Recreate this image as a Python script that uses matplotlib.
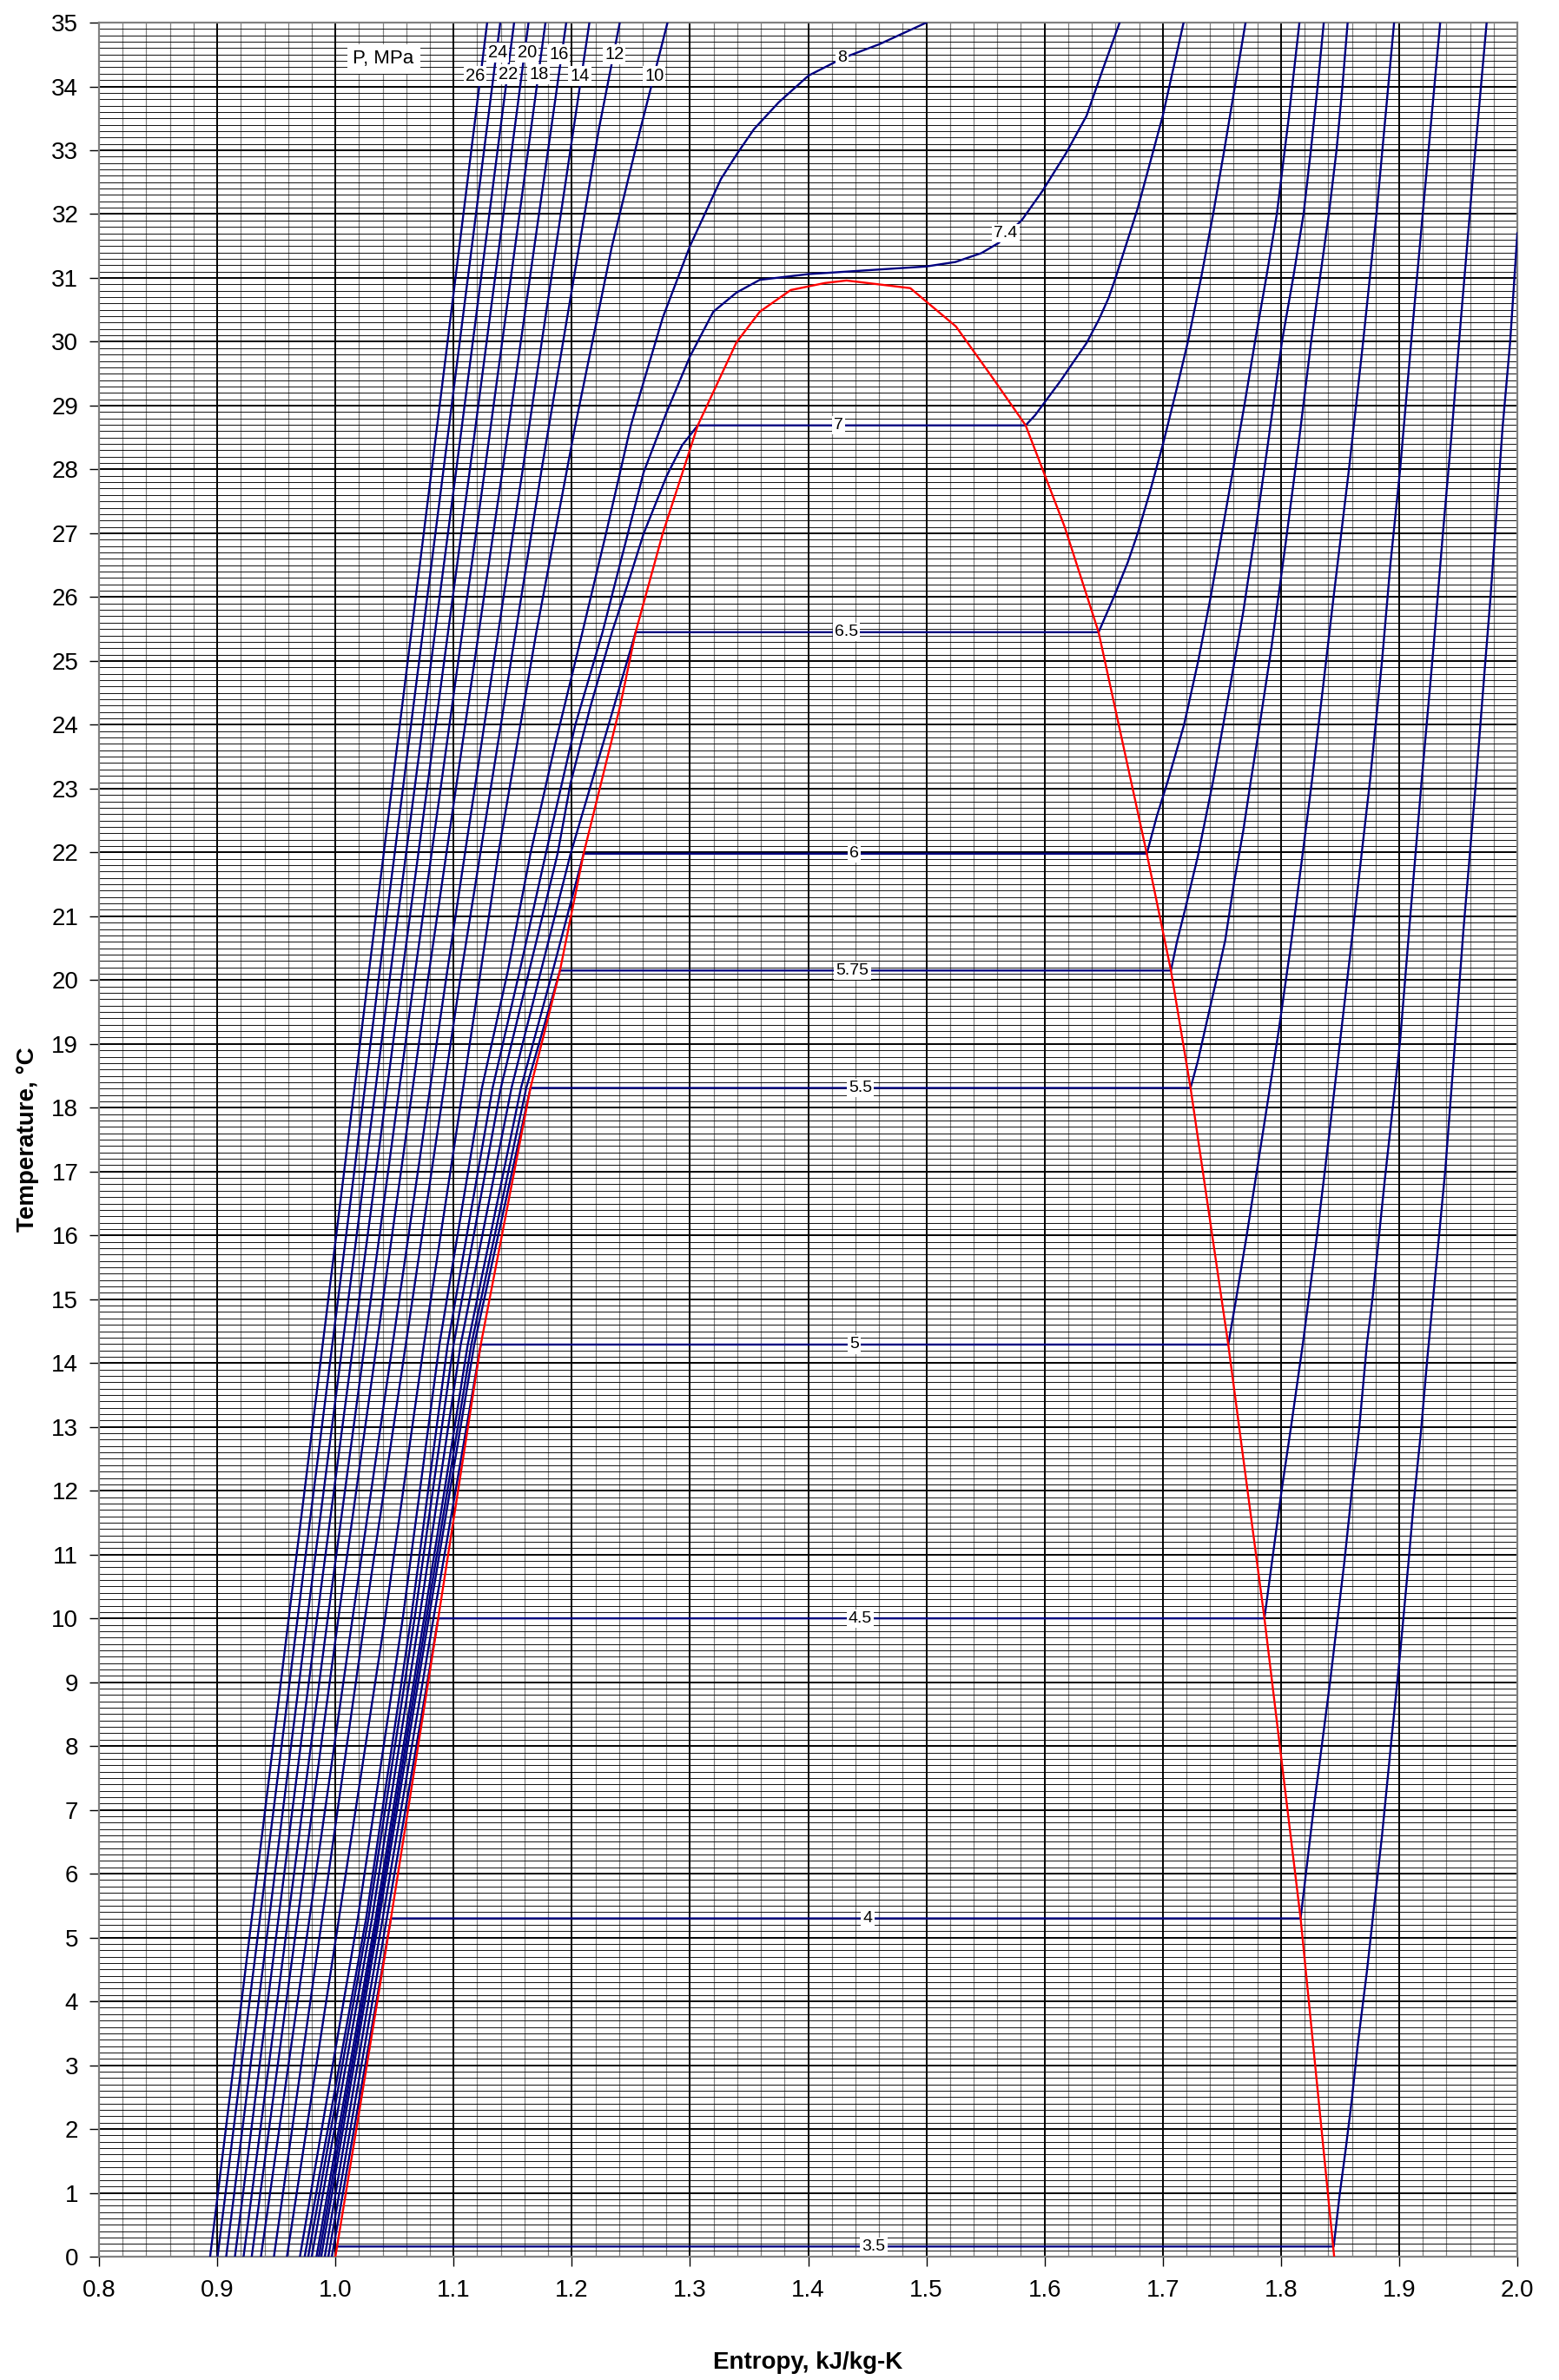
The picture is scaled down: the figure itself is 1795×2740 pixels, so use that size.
import matplotlib
matplotlib.use("Agg")
import matplotlib.pyplot as plt
from matplotlib.ticker import MultipleLocator, FormatStrFormatter

plt.rcParams['font.family'] = ['Liberation Sans', 'DejaVu Sans']

###### DATA ######
# saturation dome: liquid side up to the critical point, then vapour side down
sat_s = [1.000, 1.047, 1.087, 1.123, 1.165, 1.190, 1.210, 1.241, 1.254, 1.277,
         1.3066, 1.3393, 1.359, 1.3852, 1.414, 1.4324, 1.4864, 1.525, 1.557,
         1.584, 1.617, 1.6457, 1.6865, 1.7069, 1.7235, 1.7554, 1.786, 1.8166, 1.845]
sat_t = [0.0, 5.3, 10.0, 14.29, 18.31, 20.15, 21.98, 24.3, 25.45, 27.0,
         28.69, 29.99, 30.47, 30.81, 30.92, 30.96, 30.84, 30.24, 29.41,
         28.69, 27.1, 25.45, 21.98, 20.15, 18.31, 14.29, 10.0, 5.3, 0.0]

# isobars as (s, T) points, MPa
iso_3_5 = [(1.001, 0.16), (1.8446, 0.16), (1.8497, 0.98), (1.8548, 1.69), (1.860, 2.47),
           (1.865, 3.33), (1.8727, 4.47), (1.8778, 5.32), (1.8855, 6.6), (1.8931, 8.03),
           (1.9008, 9.45), (1.9079, 10.88), (1.9122, 11.79), (1.9186, 12.96), (1.9237, 14.05),
           (1.9314, 15.54), (1.939, 17.02), (1.948, 19.21), (1.9543, 20.77), (1.965, 23.12),
           (1.9722, 24.83), (1.9773, 26.0), (1.9811, 27.0), (1.9875, 28.66), (1.9939, 30.0),
           (2.0, 31.7)]
iso_4 = [(0.997, 0.0), (1.0205, 2.5), (1.047, 5.3), (1.8166, 5.3), (1.8275, 7.0),
         (1.8415, 9.0), (1.8536, 10.88), (1.860, 12.0), (1.8663, 13.0), (1.8727, 14.3),
         (1.8778, 15.07), (1.888, 16.9), (1.9008, 19.05), (1.9085, 20.8), (1.919, 23.12),
         (1.929, 25.2), (1.937, 27.0), (1.9441, 28.5), (1.952, 30.3), (1.962, 32.5),
         (1.974, 35.0)]
iso_4_5 = [(0.994, 0.0), (1.0435, 5.3), (1.087, 10.0), (1.786, 10.0), (1.7925, 10.9),
           (1.8005, 12.0), (1.8085, 13.0), (1.8185, 14.3), (1.8305, 16.0), (1.839, 17.3),
           (1.851, 19.2), (1.8585, 20.4), (1.8753, 23.12), (1.8855, 25.0), (1.8925, 26.5),
           (1.9008, 28.0), (1.9097, 29.9), (1.9199, 32.0), (1.9347, 35.0)]
iso_5 = [(0.991, 0.0), (1.040, 5.3), (1.083, 10.0), (1.123, 14.29), (1.7554, 14.29),
         (1.762, 15.0), (1.771, 16.0), (1.7795, 17.0), (1.788, 18.0), (1.798, 19.2),
         (1.808, 20.5), (1.8185, 22.0), (1.8262, 23.12), (1.835, 24.5), (1.8445, 26.0),
         (1.8575, 28.0), (1.8695, 30.0), (1.8808, 32.0), (1.8957, 35.0)]
iso_5_5 = [(0.988, 0.0), (1.037, 5.3), (1.079, 10.0), (1.1175, 14.29), (1.165, 18.31),
           (1.7235, 18.31), (1.7298, 18.74), (1.7375, 19.37), (1.7452, 19.99), (1.7528, 20.62),
           (1.7605, 21.55), (1.7681, 22.34), (1.7745, 23.12), (1.782, 24.0), (1.792, 25.22),
           (1.8035, 26.78), (1.8145, 28.34), (1.8255, 30.0), (1.833, 31.0), (1.8405, 32.0),
           (1.847, 33.0), (1.852, 34.0), (1.8564, 35.0)]
iso_5_75 = [(0.986, 0.0), (1.0355, 5.3), (1.077, 10.0), (1.115, 14.29), (1.1615, 18.31),
            (1.190, 20.15), (1.7069, 20.15), (1.712, 20.6), (1.7196, 21.16), (1.7298, 21.95),
            (1.7426, 23.12), (1.7554, 24.44), (1.7681, 25.77), (1.7783, 27.02), (1.7885, 28.34),
            (1.8008, 30.0), (1.8103, 31.0), (1.8191, 32.0), (1.8253, 33.0), (1.831, 34.0),
            (1.8362, 35.0)]
iso_6 = [(0.984, 0.0), (1.034, 5.3), (1.075, 10.0), (1.112, 14.29), (1.157, 18.31),
         (1.184, 20.15), (1.210, 21.98), (1.6865, 21.98), (1.695, 22.57), (1.7043, 23.12),
         (1.718, 24.0), (1.730, 25.0), (1.7405, 26.0), (1.750, 27.0), (1.7595, 28.0),
         (1.769, 29.0), (1.778, 30.0), (1.7875, 31.0), (1.7965, 32.0), (1.8065, 33.5),
         (1.8156, 35.0)]
iso_6_5 = [(0.980, 0.0), (1.031, 5.3), (1.071, 10.0), (1.106, 14.29), (1.149, 18.31),
           (1.174, 20.15), (1.199, 21.98), (1.228, 23.8), (1.254, 25.45), (1.6457, 25.45),
           (1.6597, 26.05), (1.6705, 26.55), (1.6788, 27.0), (1.689, 27.64), (1.7005, 28.42),
           (1.712, 29.28), (1.721, 29.98), (1.7324, 31.0), (1.7426, 32.0), (1.752, 33.0),
           (1.761, 34.0), (1.770, 35.0)]
iso_7 = [(0.977, 0.0), (1.028, 5.3), (1.067, 10.0), (1.100, 14.29), (1.140, 18.31),
         (1.164, 20.15), (1.188, 21.98), (1.199, 23.09), (1.216, 24.3), (1.234, 25.45),
         (1.249, 26.3), (1.2607, 26.99), (1.2803, 27.9), (1.2934, 28.38), (1.3066, 28.69),
         (1.584, 28.69), (1.592, 28.85), (1.602, 29.1), (1.614, 29.4), (1.625, 29.7),
         (1.6355, 29.98), (1.646, 30.35), (1.654, 30.68), (1.6597, 30.98), (1.6788, 32.09),
         (1.700, 33.54), (1.7176, 35.0)]
iso_7_4 = [(0.974, 0.0), (1.026, 5.3), (1.064, 10.0), (1.095, 14.29), (1.133, 18.31),
           (1.156, 20.15), (1.178, 21.98), (1.203, 24.0), (1.226, 25.45), (1.2607, 27.95),
           (1.2803, 28.9), (1.300, 29.77), (1.3197, 30.47), (1.3393, 30.77), (1.359, 30.97),
           (1.400, 31.06), (1.450, 31.12), (1.500, 31.18), (1.5246, 31.25), (1.5466, 31.39),
           (1.5613, 31.55), (1.5809, 31.91), (1.5981, 32.36), (1.618, 32.95), (1.6355, 33.54),
           (1.6495, 34.28), (1.6635, 35.0)]
iso_8 = [(0.970, 0.0), (1.019, 5.3), (1.057, 10.0), (1.088, 14.29), (1.124, 18.31),
         (1.146, 20.15), (1.165, 21.98), (1.186, 23.7), (1.209, 25.45), (1.229, 27.0),
         (1.250, 28.69), (1.2574, 29.16), (1.277, 30.38), (1.300, 31.5), (1.3262, 32.55),
         (1.340, 32.95), (1.3541, 33.33), (1.375, 33.75), (1.4003, 34.17), (1.430, 34.45),
         (1.460, 34.66), (1.500, 35.0)]
iso_10 = [(0.959, 0.0), (1.003, 5.3), (1.042, 10.0), (1.075, 14.3), (1.108, 18.3),
          (1.138, 22.0), (1.170, 25.45), (1.203, 28.69), (1.234, 31.5), (1.258, 33.33),
          (1.281, 35.0)]
iso_12 = [(0.948, 0.0), (1.025, 10.0), (1.1055, 20.0), (1.1745, 28.0), (1.2229, 33.33),
          (1.2406, 35.0)]
iso_14 = [(0.937, 0.0), (1.0145, 10.0), (1.0935, 20.0), (1.1585, 28.0), (1.2149, 35.0)]
iso_16 = [(0.9292, 0.0), (1.0025, 10.0), (1.0782, 20.0), (1.1415, 28.0), (1.1953, 35.0)]
iso_18 = [(0.9223, 0.0), (0.9935, 10.0), (1.0665, 20.0), (1.1265, 28.0), (1.1777, 35.0)]
iso_20 = [(0.915, 0.0), (0.9845, 10.0), (1.0558, 20.0), (1.1138, 28.0), (1.1634, 35.0)]
iso_22 = [(0.9076, 0.0), (0.9762, 10.0), (1.0458, 20.0), (1.1023, 28.0), (1.1512, 35.0)]
iso_24 = [(0.9003, 0.0), (0.968, 10.0), (1.0365, 20.0), (1.0915, 28.0), (1.1395, 35.0)]
iso_26 = [(0.894, 0.0), (0.9605, 10.0), (1.0275, 20.0), (1.0815, 28.0), (1.1284, 35.0)]

isobars = [iso_3_5, iso_4, iso_4_5, iso_5, iso_5_5, iso_5_75, iso_6, iso_6_5, iso_7,
           iso_7_4, iso_8, iso_10, iso_12, iso_14, iso_16, iso_18, iso_20, iso_22,
           iso_24, iso_26]

# pressure labels on the lines
lab_text = ['3.5', '4', '4.5', '5', '5.5', '5.75', '6', '6.5', '7', '7.4', '8']
lab_s = [1.4555, 1.4504, 1.444, 1.4388, 1.444, 1.4375, 1.4388, 1.4324, 1.426, 1.5671, 1.4285]
lab_t = [0.16, 5.3, 10.0, 14.29, 18.31, 20.15, 21.98, 25.45, 28.69, 31.70, 34.45]
top_text = ['26', '24', '22', '20', '18', '16', '14', '12', '10']
top_s = [1.118, 1.1373, 1.146, 1.162, 1.172, 1.1889, 1.2066, 1.236, 1.2697]
top_t = [34.17, 34.53, 34.19, 34.53, 34.19, 34.50, 34.16, 34.50, 34.16]


########## PLOT ##################
fig = plt.figure(figsize=(17.95, 27.4), dpi=100)
ax = fig.add_axes([0.0635, 0.0518, 0.9098, 0.9387])

for pts in isobars:
    xs = [p[0] for p in pts]
    ts = [p[1] for p in pts]
    ax.plot(xs, ts, color='#000080', lw=1.7, zorder=3)

ax.plot(sat_s, sat_t, color='#FF0000', lw=1.7, zorder=4)

box = dict(facecolor='white', edgecolor='none', pad=1.5)
for txt, s, t in zip(lab_text, lab_s, lab_t):
    ax.text(s, t, txt, fontsize=14, ha='center', va='center', bbox=box, zorder=6)
for txt, s, t in zip(top_text, top_s, top_t):
    ax.text(s, t, txt, fontsize=14.5, ha='center', va='center', bbox=box, zorder=6)
ax.text(1.0407, 34.43, 'P, MPa', fontsize=16, ha='center', va='center',
        bbox=dict(facecolor='white', edgecolor='none', pad=5), zorder=6)

ax.set_xlim(0.8, 2.0)
ax.set_ylim(0, 35)
ax.xaxis.set_major_locator(MultipleLocator(0.1))
ax.xaxis.set_minor_locator(MultipleLocator(0.02))
ax.yaxis.set_major_locator(MultipleLocator(1))
ax.yaxis.set_minor_locator(MultipleLocator(0.1))
ax.xaxis.set_major_formatter(FormatStrFormatter('%.1f'))

ax.set_axisbelow(True)
ax.grid(which='minor', axis='x', color='#808080', lw=0.9)
ax.grid(which='minor', axis='y', color='black', lw=0.65)
ax.grid(which='major', axis='both', color='black', lw=1.4)

ax.tick_params(which='major', direction='out', length=8, width=1, labelsize=20)
ax.tick_params(axis='x', which='major', pad=11)
ax.tick_params(axis='y', which='major', pad=9)
ax.tick_params(which='minor', length=0)
for sp in ax.spines.values():
    sp.set_color('#808080')
    sp.set_linewidth(1.6)

ax.set_xlabel('Entropy, kJ/kg-K', fontsize=20, fontweight='bold', labelpad=41)
ax.set_ylabel('Temperature, \u00b0C', fontsize=20, fontweight='bold', labelpad=10)

fig.savefig('out.png', dpi=100)
